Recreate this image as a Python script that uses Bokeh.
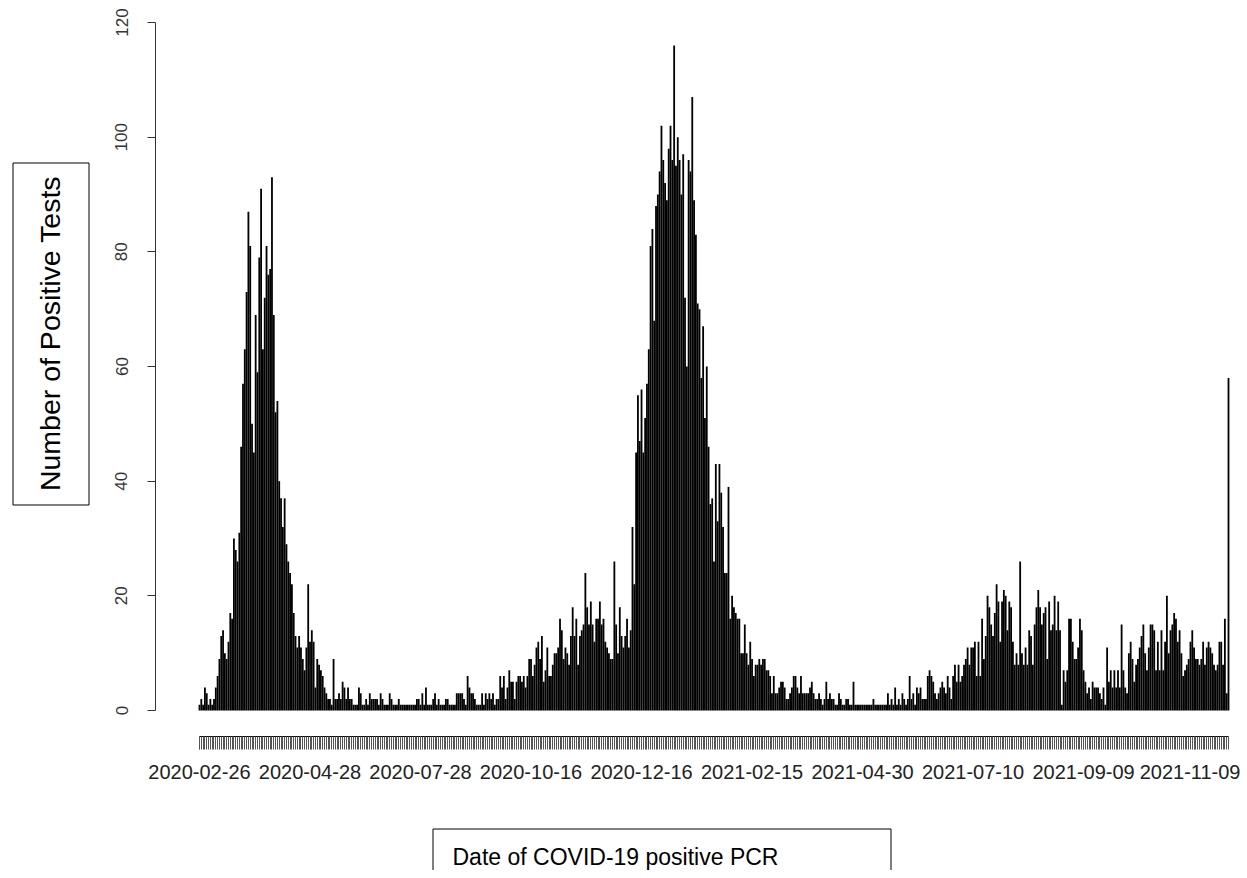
import pandas as pd
from math import pi
from bokeh.plotting import figure
from bokeh.layouts import row, column
from bokeh.models import Range1d, LinearAxis, FixedTicker, ColumnDataSource
from bokeh.core.properties import value
from bokeh.embed import file_html
from bokeh.resources import INLINE

# ---------------- data (daily positive PCR counts) ----------------
counts_seg1 = [1,2,1,4,3,1,2,1,2,4, 6,9,13,14,10,9,12,17,16,30, 28,26,31,46,57,63,73,87,81,50,
               45,69,59,79,91,63,72,81,76,77, 93,69,52,54,40,37,32,37,29,26, 24,22,17,13,11,13,11,9,7,11, 22]
counts_seg2 = [12,14,12,4,9,8,7,6,4,3, 2,2,1,9,2,2,3,2,5,4, 2,4, 2,2,1,1,1,4,3,1,1,2,
               1,3,2,2,2,2,1,3,2,1, 1,1,3,2,1,1,1,2,1,1, 1,1,1,1,1,1,1,2,2]
counts_seg3 = [1,3,1,4,1,1,1,2,3,1, 2,1,1,1,2,2,1,1,1,1, 3,3,3,3,2,1,6,4,3,3,
               2,1,1,1,3,1,3,2,3,2, 3,1,2,2,6,4,6,2,4,7, 5,5,2,5,6,6,5,6,4,6, 9]
counts_seg4 = [9,6,8,11,12,9,13,5,7,11, 6,6,8,10,10,11,16,14,9,11, 10,8,13,18,13,16,8,13,14,15,
               24,18,15,19,15,12,16,16,19,15, 16,12,11,10,9,9,26,15,10,18, 13,11,13,16,11,14,32,22,45,55, 47]
counts_seg5 = [56,45,51,57,63,81,84,68,88,90, 94,102,96,92,89,98,102,96,116,95, 100,96,90,97,72,60,96,94,107,89,
               83,71,70,58,67,51,60,46,36,37, 26,43,33,43,38,32,24,24,39,16, 20,18,17,16,16,10,10,15,10,8, 12]
counts_seg6 = [9,6,8,8,9,8,9,9,7,7, 6,3,6,3,3,4,5,5,4,2, 2,3,4, 6,6,4,3,6,3,3,3,3,4,
               5,3,2,2,3,2,1,2,5,2, 3,2,2,1,1,3,2,1,1,2, 2,1,1,5,1,1,1,1]
counts_seg7 = [1,1,1,1,1,1,2,1,1,1, 1,1,1,1,3,1,2,1,4,1, 2,1,3,2,1,2,6,2,3,1,
               4,3,4,2,2,2,6,7,6,5, 3,2,3,4,5,4,3,6,4,2, 6,8,5,8,5,6,8,9,11,8, 11]
counts_seg8 = [11,12,6,12,6,16,9,13,20,18, 15,13,17,22,19,12,19,21,20,14, 19,18,12,8,10,8,26,10,8,11,
               8,14,13,8,15,18,21,18,15,17, 18,9,19,14,15,20,14,19,14,1, 7,5,7,16,16,12,9,9,11,16, 14]
counts_seg9 = [7,5,3,4,2,5,4,4,4,3, 2,4,1,11,5,7,4,7,4,7, 4,15,7,4,3,10,12,9,5,8,
               9,11,13,15,10,7,11,15,15,14, 7,12,7,14,7,12,20,10,14,15, 17,16,12,14,10,6,7,8,9,12, 14]
counts_tail = [11,9,9,8,9,12,8,11,12,11, 10,8,7,8,12,12,8,16,3,58]

first_day = "2020-02-26"
last_day = "2021-11-28"
# days without any positive test (no bar in the chart)
missing_days = [
    "2020-03-02",
    "2020-05-24", "2020-05-27", "2020-05-31", "2020-06-01", "2020-06-04", "2020-06-07", "2020-06-08",
    "2020-06-11", "2020-06-14", "2020-06-15", "2020-06-18", "2020-06-21", "2020-06-22", "2020-06-25",
    "2020-06-27", "2020-06-28", "2020-06-30", "2020-07-02", "2020-07-04", "2020-07-05", "2020-07-07",
    "2020-07-09", "2020-07-11", "2020-07-12", "2020-07-14", "2020-07-16", "2020-07-18", "2020-07-19",
    "2020-07-22", "2020-07-25",
    "2020-08-01", "2020-08-02", "2020-08-08", "2020-08-09", "2020-08-15", "2020-08-16", "2020-08-22",
    "2020-08-23", "2020-08-29", "2020-08-30", "2020-09-05", "2020-09-06", "2020-09-07", "2020-09-12",
    "2020-09-13", "2020-09-19", "2020-09-20", "2020-09-26", "2020-09-27",
    "2021-03-14", "2021-03-20", "2021-03-21", "2021-03-27", "2021-03-28", "2021-04-03", "2021-04-04",
    "2021-04-05", "2021-04-10", "2021-04-11", "2021-04-17", "2021-04-18", "2021-04-25",
    "2021-05-01", "2021-05-02", "2021-05-08", "2021-05-09", "2021-05-15", "2021-05-16", "2021-05-22",
    "2021-05-23", "2021-05-29", "2021-05-30",
]
tick_dates = ["2020-02-26", "2020-04-28", "2020-07-28", "2020-10-16", "2020-12-16",
              "2021-02-15", "2021-04-30", "2021-07-10", "2021-09-09", "2021-11-09"]
y_ticks = [0, 20, 40, 60, 80, 100, 120]

y_title = "Number of Positive Tests"
x_title = "Date of COVID-19 positive PCR"

# ---------------- build categories ----------------
counts = (counts_seg1 + counts_seg2 + counts_seg3 + counts_seg4 + counts_seg5 +
          counts_seg6 + counts_seg7 + counts_seg8 + counts_seg9 + counts_tail)
skip = set(missing_days)
dates = [d.strftime("%Y-%m-%d") for d in pd.date_range(first_day, last_day)
         if d.strftime("%Y-%m-%d") not in skip]
n = min(len(dates), len(counts))
dates = dates[:n]
counts = counts[:n]
idx = list(range(n))
tick_idx = [dates.index(d) for d in tick_dates if d in dates]

src = ColumnDataSource(dict(x=idx, top=counts, date=dates))

# ---------------- layout (page pixels) ----------------
W, H = 1240, 870
TOP_H = 820                  # height of the row holding y-title + chart
YT_W = 90                    # width of the y-title strip
FL, FB = 155, 736            # frame left / bottom in page px
BAR0, BARN = 199, 1228       # centre of first / last bar
Y0, Y120 = 710, 22           # page px of 0 and 120
px_x = (BARN - BAR0) / (n - 1)
px_y = (Y0 - Y120) / 120.0
xs = -(BAR0 - FL) / px_x
xe = (n - 1) + (W - BARN) / px_x
ye = 120 + Y120 / px_y
ys = -(FB - Y0) / px_y

FONT = "Liberation Sans"

p = figure(width=W - YT_W, height=TOP_H, output_backend="svg", toolbar_location=None,
           x_range=Range1d(xs, xe), y_range=Range1d(ys, ye),
           x_axis_type=None, y_axis_type=None,
           min_border_left=FL - YT_W, min_border_right=0, min_border_top=0,
           min_border_bottom=TOP_H - FB)
p.outline_line_color = None
p.background_fill_color = "white"
p.border_fill_color = "white"

p.vbar(x="x", top="top", bottom=0, width=1.0, source=src, fill_color="black", line_color=None)

xaxis = LinearAxis(ticker=FixedTicker(ticks=tick_idx, minor_ticks=idx), bounds=(0, n - 1),
                   major_label_overrides={i: dates[i] for i in tick_idx})
xaxis.axis_line_color = "black"
xaxis.major_tick_out = 13
xaxis.major_tick_in = 0
xaxis.minor_tick_out = 13
xaxis.minor_tick_in = 0
xaxis.minor_tick_line_color = "#555555"
xaxis.major_tick_line_color = "#555555"
xaxis.major_label_standoff = 15
xaxis.major_label_text_font = FONT
xaxis.major_label_text_font_size = "20px"
xaxis.major_label_text_color = "#222222"
p.add_layout(xaxis, "below")

yaxis = LinearAxis(ticker=FixedTicker(ticks=y_ticks), bounds=(0, 120),
                   major_label_orientation="vertical")
yaxis.axis_line_color = "#333333"
yaxis.major_tick_out = 8
yaxis.major_tick_in = 0
yaxis.minor_tick_out = 0
yaxis.minor_tick_in = 0
yaxis.major_tick_line_color = "#333333"
yaxis.major_label_standoff = 20
yaxis.major_label_text_font = FONT
yaxis.major_label_text_font_size = "17px"
yaxis.major_label_text_color = "#333333"
p.add_layout(yaxis, "left")

def strip(width, height, bottom_border=0):
    f = figure(width=width, height=height, output_backend="svg", toolbar_location=None,
               x_range=Range1d(0, width), y_range=Range1d(height - bottom_border, 0),
               x_axis_type=None, y_axis_type=None,
               min_border_left=0, min_border_right=0, min_border_top=0,
               min_border_bottom=bottom_border)
    f.outline_line_color = None
    f.background_fill_color = "white"
    f.border_fill_color = "white"
    return f

# y-axis title strip (boxed, rotated text); its frame lines up with the chart frame
py = strip(YT_W, TOP_H, TOP_H - FB)
py.quad(left=[12.5], right=[88.5], top=[162.5], bottom=[504.5],
        fill_color=None, line_color="black", line_width=1)
py.text(x=[49], y=[333], text=[y_title], angle=pi / 2,
        text_align="center", text_baseline="middle",
        text_font=value(FONT), text_font_size="28.5px", text_color="black")

# x-axis title strip (boxed text)
px = strip(W, H - TOP_H)
px.quad(left=[432.5], right=[890.5], top=[8.5], bottom=[70],
        fill_color=None, line_color="black", line_width=1)
px.text(x=[452], y=[36], text=[x_title],
        text_align="left", text_baseline="middle",
        text_font=value(FONT), text_font_size="23px", text_color="black")

layout = column(row(py, p, spacing=0), px, spacing=0)

open("out.html", "w").write(file_html(layout, INLINE))
